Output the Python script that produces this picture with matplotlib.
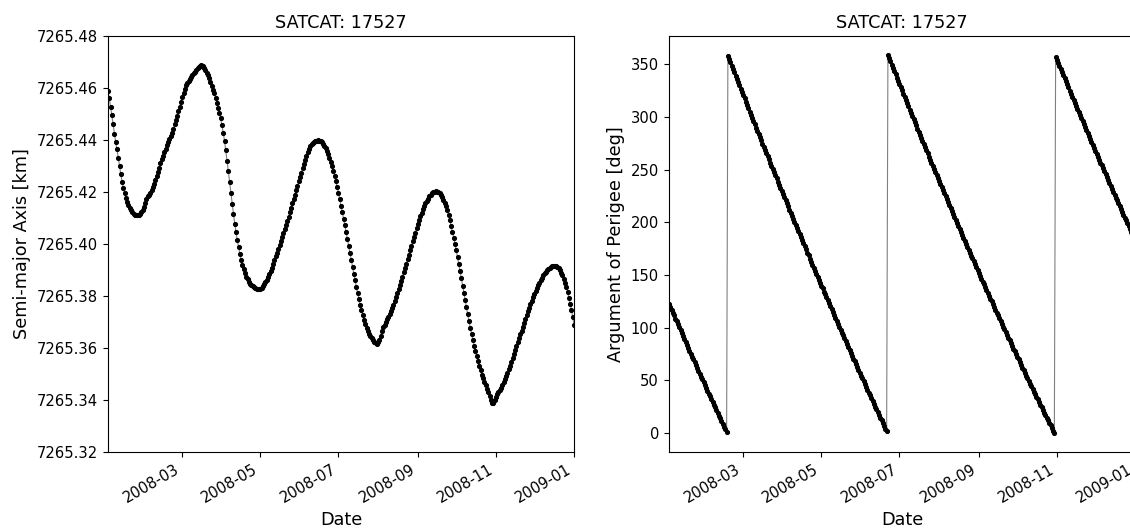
import numpy as np
import pandas as pd
import matplotlib
matplotlib.use("Agg")
import matplotlib.pyplot as plt
import matplotlib.dates as mdates

satcat = 17527
start_date = "2008-01-03"

# semi-major axis [km], one value per day
sma_km = [
    7265.4590, 7265.4560, 7265.4528, 7265.4495, 7265.4460, 7265.4425, 7265.4392, 7265.4365, 7265.4332, 7265.4300,
    7265.4268, 7265.4240, 7265.4215, 7265.4195, 7265.4177, 7265.4162, 7265.4150, 7265.4140, 7265.4130, 7265.4122,
    7265.4115, 7265.4111, 7265.4110, 7265.4111, 7265.4113, 7265.4117, 7265.4122, 7265.4130, 7265.4142, 7265.4157,
    7265.4172, 7265.4183, 7265.4190, 7265.4198, 7265.4208, 7265.4220, 7265.4232, 7265.4245, 7265.4262, 7265.4278,
    7265.4294, 7265.4310, 7265.4326, 7265.4340, 7265.4354, 7265.4367, 7265.4380, 7265.4393, 7265.4405, 7265.4416,
    7265.4428, 7265.4443, 7265.4460, 7265.4476, 7265.4493, 7265.4510, 7265.4528, 7265.4546, 7265.4564, 7265.4581,
    7265.4598, 7265.4610, 7265.4620, 7265.4628, 7265.4636, 7265.4643, 7265.4650, 7265.4657, 7265.4663, 7265.4670,
    7265.4676, 7265.4682, 7265.4686, 7265.4687, 7265.4684, 7265.4677, 7265.4668, 7265.4659, 7265.4651, 7265.4638,
    7265.4622, 7265.4608, 7265.4594, 7265.4580, 7265.4563, 7265.4544, 7265.4525, 7265.4505, 7265.4483, 7265.4457,
    7265.4428, 7265.4398, 7265.4360, 7265.4320, 7265.4280, 7265.4238, 7265.4196, 7265.4155, 7265.4115, 7265.4078,
    7265.4045, 7265.4015, 7265.3988, 7265.3963, 7265.3940, 7265.3920, 7265.3903, 7265.3888, 7265.3875, 7265.3864,
    7265.3855, 7265.3848, 7265.3842, 7265.3837, 7265.3833, 7265.3830, 7265.3828, 7265.3826, 7265.3826, 7265.3828,
    7265.3832, 7265.3838, 7265.3845, 7265.3853, 7265.3862, 7265.3872, 7265.3883, 7265.3895, 7265.3908, 7265.3922,
    7265.3937, 7265.3952, 7265.3967, 7265.3982, 7265.3997, 7265.4012, 7265.4027, 7265.4042, 7265.4057, 7265.4073,
    7265.4089, 7265.4105, 7265.4122, 7265.4139, 7265.4156, 7265.4173, 7265.4190, 7265.4207, 7265.4224, 7265.4241,
    7265.4258, 7265.4275, 7265.4292, 7265.4309, 7265.4325, 7265.4340, 7265.4354, 7265.4366, 7265.4376, 7265.4384,
    7265.4390, 7265.4394, 7265.4397, 7265.4398, 7265.4399, 7265.4398, 7265.4396, 7265.4392, 7265.4386, 7265.4378,
    7265.4368, 7265.4357, 7265.4345, 7265.4331, 7265.4316, 7265.4300, 7265.4282, 7265.4262, 7265.4241, 7265.4219,
    7265.4196, 7265.4172, 7265.4148, 7265.4123, 7265.4098, 7265.4072, 7265.4046, 7265.4020, 7265.3993, 7265.3966,
    7265.3939, 7265.3912, 7265.3886, 7265.3860, 7265.3835, 7265.3811, 7265.3788, 7265.3766, 7265.3745, 7265.3726,
    7265.3708, 7265.3692, 7265.3678, 7265.3666, 7265.3655, 7265.3646, 7265.3638, 7265.3631, 7265.3625, 7265.3620,
    7265.3617, 7265.3622, 7265.3632, 7265.3648, 7265.3665, 7265.3679, 7265.3690, 7265.3700, 7265.3710, 7265.3720,
    7265.3730, 7265.3741, 7265.3753, 7265.3766, 7265.3780, 7265.3795, 7265.3810, 7265.3826, 7265.3842, 7265.3858,
    7265.3874, 7265.3891, 7265.3908, 7265.3925, 7265.3942, 7265.3959, 7265.3976, 7265.3993, 7265.4010, 7265.4027,
    7265.4044, 7265.4060, 7265.4076, 7265.4091, 7265.4106, 7265.4120, 7265.4133, 7265.4145, 7265.4156, 7265.4166,
    7265.4175, 7265.4183, 7265.4190, 7265.4195, 7265.4199, 7265.4201, 7265.4202, 7265.4201, 7265.4199, 7265.4195,
    7265.4189, 7265.4181, 7265.4171, 7265.4159, 7265.4145, 7265.4129, 7265.4111, 7265.4091, 7265.4070, 7265.4048,
    7265.4025, 7265.4001, 7265.3976, 7265.3950, 7265.3923, 7265.3896, 7265.3868, 7265.3840, 7265.3812, 7265.3784,
    7265.3756, 7265.3729, 7265.3703, 7265.3678, 7265.3654, 7265.3631, 7265.3609, 7265.3588, 7265.3568, 7265.3549,
    7265.3531, 7265.3514, 7265.3498, 7265.3483, 7265.3469, 7265.3456, 7265.3444, 7265.3431, 7265.3414, 7265.3400,
    7265.3388, 7265.3390, 7265.3400, 7265.3413, 7265.3424, 7265.3432, 7265.3440, 7265.3448, 7265.3458, 7265.3468,
    7265.3479, 7265.3491, 7265.3504, 7265.3518, 7265.3532, 7265.3547, 7265.3562, 7265.3577, 7265.3592, 7265.3607,
    7265.3622, 7265.3637, 7265.3652, 7265.3667, 7265.3682, 7265.3697, 7265.3712, 7265.3727, 7265.3741, 7265.3755,
    7265.3769, 7265.3782, 7265.3795, 7265.3807, 7265.3819, 7265.3830, 7265.3841, 7265.3851, 7265.3861, 7265.3870,
    7265.3879, 7265.3887, 7265.3894, 7265.3900, 7265.3905, 7265.3909, 7265.3912, 7265.3914, 7265.3915, 7265.3915,
    7265.3914, 7265.3911, 7265.3906, 7265.3899, 7265.3890, 7265.3879, 7265.3866, 7265.3851, 7265.3834, 7265.3815,
    7265.3794, 7265.3771, 7265.3746, 7265.3719, 7265.3690,
]

# argument of perigee [deg], same days
aop_deg = [
    123.0, 120.2, 117.3, 114.5, 111.7, 108.8, 106.0, 103.2, 100.4, 97.6,
    94.8, 92.0, 89.3, 86.5, 83.7, 81.0, 78.2, 75.5, 72.7, 70.0,
    67.2, 64.5, 61.8, 59.1, 56.4, 53.7, 51.0, 48.3, 45.6, 43.0,
    40.3, 37.6, 35.0, 32.3, 29.7, 27.1, 24.4, 21.8, 19.2, 16.6,
    14.0, 11.4, 8.8, 6.2, 3.6, 1.0, 358.1, 355.0, 351.8, 348.7,
    345.6, 342.4, 339.3, 336.2, 333.1, 330.0, 326.9, 323.8, 320.7, 317.6,
    314.5, 311.4, 308.3, 305.2, 302.2, 299.1, 296.0, 293.0, 289.9, 286.9,
    283.8, 280.8, 277.8, 274.7, 271.7, 268.7, 265.7, 262.7, 259.7, 256.6,
    253.6, 250.7, 247.7, 244.7, 241.7, 238.7, 235.7, 232.8, 229.8, 226.8,
    223.9, 220.9, 218.0, 215.1, 212.1, 209.2, 206.2, 203.3, 200.4, 197.5,
    194.6, 191.7, 188.8, 185.9, 183.0, 180.1, 177.2, 174.3, 171.4, 168.6,
    165.7, 162.8, 160.0, 157.1, 154.3, 151.4, 148.6, 145.7, 142.9, 140.1,
    137.3, 134.4, 131.6, 128.8, 126.0, 123.2, 120.4, 117.6, 114.8, 112.0,
    109.3, 106.5, 103.7, 100.9, 98.2, 95.4, 92.7, 89.9, 87.2, 84.4,
    81.7, 79.0, 76.2, 73.5, 70.8, 68.1, 65.4, 62.7, 60.0, 57.3,
    54.6, 51.9, 49.2, 46.5, 43.9, 41.2, 38.5, 35.9, 33.2, 30.6,
    27.9, 25.3, 22.6, 20.0, 17.4, 14.7, 12.1, 9.5, 6.9, 4.3,
    1.7, 358.9, 355.8, 352.7, 349.6, 346.6, 343.5, 340.4, 337.4, 334.3,
    331.2, 328.2, 325.2, 322.1, 319.1, 316.1, 313.0, 310.0, 307.0, 304.0,
    301.0, 298.0, 295.0, 292.0, 289.0, 286.1, 283.1, 280.1, 277.2, 274.2,
    271.3, 268.3, 265.4, 262.4, 259.5, 256.6, 253.7, 250.8, 247.8, 244.9,
    242.0, 239.2, 236.3, 233.4, 230.5, 227.6, 224.8, 221.9, 219.0, 216.2,
    213.4, 210.5, 207.7, 204.8, 202.0, 199.2, 196.4, 193.6, 190.8, 188.0,
    185.2, 182.4, 179.6, 176.8, 174.1, 171.3, 168.5, 165.8, 163.0, 160.3,
    157.5, 154.8, 152.1, 149.3, 146.6, 143.9, 141.2, 138.5, 135.8, 133.1,
    130.4, 127.7, 125.0, 122.4, 119.7, 117.0, 114.4, 111.7, 109.1, 106.4,
    103.8, 101.1, 98.5, 95.9, 93.3, 90.7, 88.1, 85.5, 82.9, 80.3,
    77.7, 75.1, 72.5, 70.0, 67.4, 64.8, 62.3, 59.7, 57.2, 54.6,
    52.1, 49.6, 47.1, 44.5, 42.0, 39.5, 37.0, 34.5, 32.0, 29.5,
    27.1, 24.6, 22.1, 19.6, 17.2, 14.7, 12.3, 9.8, 7.4, 5.0,
    2.5, 0.1, 357.2, 354.3, 351.3, 348.4, 345.5, 342.5, 339.6, 336.7,
    333.8, 330.9, 328.0, 325.1, 322.2, 319.3, 316.4, 313.5, 310.6, 307.8,
    304.9, 302.0, 299.2, 296.3, 293.5, 290.6, 287.8, 284.9, 282.1, 279.3,
    276.4, 273.6, 270.8, 268.0, 265.2, 262.4, 259.6, 256.8, 254.0, 251.2,
    248.4, 245.7, 242.9, 240.1, 237.4, 234.6, 231.8, 229.1, 226.4, 223.6,
    220.9, 218.1, 215.4, 212.7, 210.0, 207.3, 204.5, 201.8, 199.1, 196.4,
    193.7, 191.1, 188.4, 185.7, 183.0,
]

dates = pd.date_range(start_date, periods=len(sma_km), freq="D")

# the reference looks like it was drawn at ~106 dpi, so fonts a bit bigger
plt.rcParams["font.size"] = 10.6
plt.rcParams["xtick.major.size"] = 3.7
plt.rcParams["ytick.major.size"] = 3.7

fig = plt.figure(figsize=(11.3, 5.28), dpi=100)
ax1 = fig.add_axes([108 / 1130, 76 / 528, 466 / 1130, 416 / 528])
ax2 = fig.add_axes([669 / 1130, 76 / 528, 466 / 1130, 416 / 528])


def draw(ax, y, ylabel):
    ax.plot(dates, y, "-", color="gray", lw=0.8, zorder=1)
    ax.plot(dates, y, "o", color="k", ms=2.7, zorder=2)
    ax.set_xlim(dates[0], dates[-1])
    ax.xaxis.set_major_locator(mdates.MonthLocator(bymonth=[1, 3, 5, 7, 9, 11]))
    ax.xaxis.set_major_formatter(mdates.DateFormatter("%Y-%m"))
    for lab in ax.get_xticklabels():
        lab.set_rotation(30)
        lab.set_ha("right")
    ax.set_xlabel("Date", fontsize=12.7)
    ax.set_ylabel(ylabel, fontsize=12.7)
    ax.set_title(f"SATCAT: {satcat}", fontsize=12.7)


draw(ax1, sma_km, "Semi-major Axis [km]")
ax1.set_ylim(7265.32, 7265.48)
ax1.set_yticks(np.arange(7265.32, 7265.481, 0.02))
ax1.yaxis.set_major_formatter(plt.FormatStrFormatter("%.2f"))

draw(ax2, aop_deg, "Argument of Perigee [deg]")

fig.savefig("out.png", dpi=100)
